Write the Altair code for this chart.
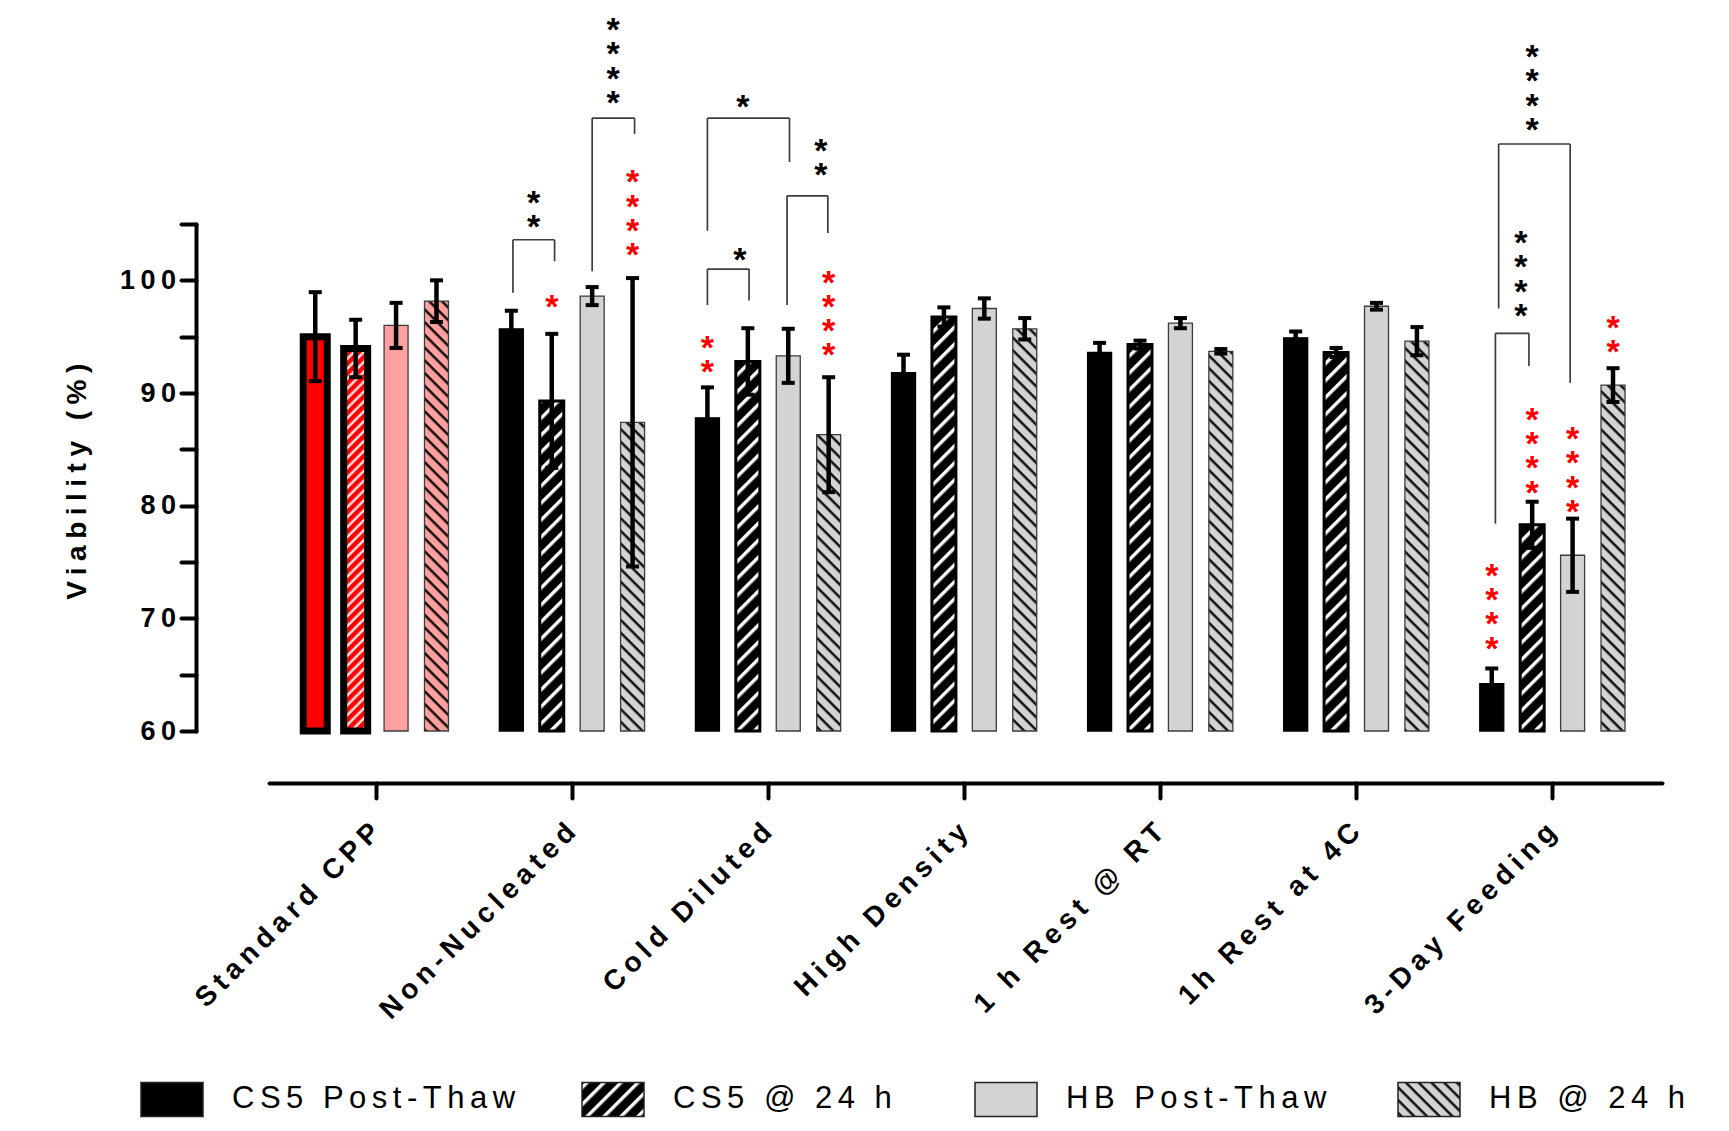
import json
import altair as alt
import pandas as pd

# ---------------- data ----------------
groups = ["Standard CPP", "Non-Nucleated", "Cold Diluted", "High Density",
          "1 h Rest @ RT", "1h Rest at 4C", "3-Day Feeding"]
series = ["CS5 Post-Thaw", "CS5 @ 24 h", "HB Post-Thaw", "HB @ 24 h"]

cs5_pt = [95.0, 95.7, 87.8, 91.8, 93.6, 94.9, 64.2]
cs5_pt_err = [3.95, 1.6, 2.7, 1.6, 0.85, 0.55, 1.35]
cs5_24 = [93.95, 89.3, 92.8, 96.75, 94.3, 93.6, 78.3]
cs5_24_err = [2.55, 5.95, 2.95, 0.85, 0.35, 0.4, 2.05]
hb_pt = [96.0, 98.6, 93.3, 97.5, 96.2, 97.7, 75.6]
hb_pt_err = [2.0, 0.8, 2.4, 0.9, 0.45, 0.3, 3.25]
hb_24 = [98.15, 87.4, 86.3, 95.7, 93.7, 94.6, 90.7]
hb_24_err = [1.85, 12.8, 5.1, 0.95, 0.2, 1.25, 1.5]

# red asterisks (vs Standard CPP): group, bar index, count, centre of top star
red_star_group = ["Non-Nucleated", "Non-Nucleated", "Cold Diluted", "Cold Diluted",
                  "3-Day Feeding", "3-Day Feeding", "3-Day Feeding", "3-Day Feeding"]
red_star_bar = [1, 3, 0, 3, 0, 1, 2, 3]
red_star_count = [1, 4, 2, 4, 4, 4, 4, 2]
red_star_top = [98.4, 109.5, 94.8, 100.6, 74.55, 88.4, 86.7, 96.6]

# black asterisks over the comparison brackets
black_star_group = ["Non-Nucleated", "Non-Nucleated", "Cold Diluted", "Cold Diluted",
                    "Cold Diluted", "3-Day Feeding", "3-Day Feeding"]
black_star_slot = [0.55, 2.52, 0.88, 0.8, 2.81, 1.0, 0.72]
black_star_count = [2, 4, 1, 1, 2, 4, 4]
black_star_top = [107.7, 123.0, 116.2, 102.6, 112.3, 120.6, 104.1]

# comparison brackets: left/right bar slot, top level, leg ends
bracket_group = black_star_group
bracket_left = [0.04, 2.0, 0.0, 0.0, 1.97, 0.17, 0.09]
bracket_right = [1.07, 3.05, 2.03, 1.03, 2.98, 1.94, 0.92]
bracket_top = [103.6, 114.4, 114.4, 101.0, 107.5, 112.1, 95.3]
bracket_left_end = [98.9, 100.8, 104.4, 97.8, 97.8, 97.5, 78.4]
bracket_right_end = [101.7, 113.0, 110.5, 98.2, 104.2, 90.9, 92.4]

# ---------------- tables built from the arrays ----------------
STEP = 0.2061  # distance between neighbouring bars, in group units


def slot_pos(group, slot):
    return groups.index(group) + (slot - 1.5) * STEP


means = [cs5_pt, cs5_24, hb_pt, hb_24]
errs = [cs5_pt_err, cs5_24_err, hb_pt_err, hb_24_err]
rows = []
for gi, g in enumerate(groups):
    for si, s in enumerate(series):
        m, e = means[si][gi], errs[si][gi]
        key = ("Standard CPP|" + s) if g == "Standard CPP" else s
        rows.append(dict(group=g, series=s, key=key, pos=slot_pos(g, si),
                         mean=m, lo=m - e, hi=m + e))
bars = pd.DataFrame(rows)
caps = pd.concat([bars.assign(cap=bars["lo"]), bars.assign(cap=bars["hi"])])

red = pd.DataFrame(dict(
    pos=[slot_pos(g, b) for g, b in zip(red_star_group, red_star_bar)],
    y=red_star_top,
    txt=["\n".join(["*"] * n) for n in red_star_count]))
black = pd.DataFrame(dict(
    pos=[slot_pos(g, b) for g, b in zip(black_star_group, black_star_slot)],
    y=black_star_top,
    txt=["\n".join(["*"] * n) for n in black_star_count]))

seg = []
for g, l, r, t, le, re in zip(bracket_group, bracket_left, bracket_right,
                              bracket_top, bracket_left_end, bracket_right_end):
    pl, pr = slot_pos(g, l), slot_pos(g, r)
    seg.append(dict(x=pl, x2=pr, y=t, y2=t))
    seg.append(dict(x=pl, x2=pl, y=le, y2=t))
    seg.append(dict(x=pr, x2=pr, y=re, y2=t))
brackets = pd.DataFrame(seg)

# ---------------- hatch patterns (SVG defs added to the page) ----------------
DEFS = """
<svg width="0" height="0" style="position:absolute;width:0;height:0;overflow:hidden" aria-hidden="true">
<defs>
<pattern id="hatchCS5" patternUnits="userSpaceOnUse" width="12" height="12" patternTransform="rotate(45)">
<rect x="0" y="0" width="12" height="12" fill="#000000"/><rect x="4" y="0" width="3.4" height="12" fill="#ffffff"/>
</pattern>
<pattern id="hatchStdCS5" patternUnits="userSpaceOnUse" width="7" height="7" patternTransform="rotate(45)">
<rect x="0" y="0" width="7" height="7" fill="#ff0000"/><rect x="2.5" y="0" width="2.2" height="7" fill="#ffffff"/>
</pattern>
<pattern id="hatchHB" patternUnits="userSpaceOnUse" width="9" height="9" patternTransform="rotate(-45)">
<rect x="0" y="0" width="9" height="9" fill="#d3d3d3"/><rect x="3.5" y="0" width="2.3" height="9" fill="#000000"/>
</pattern>
<pattern id="hatchStdHB" patternUnits="userSpaceOnUse" width="9" height="9" patternTransform="rotate(-45)">
<rect x="0" y="0" width="9" height="9" fill="#ffa0a0"/><rect x="3.5" y="0" width="2.3" height="9" fill="#000000"/>
</pattern>
</defs>
</svg>
<style>
.role-axis-label text { letter-spacing: 5.5px; }
.role-axis-title text { letter-spacing: 6.5px; }
.role-legend-label text { letter-spacing: 5.5px; }
</style>
"""

try:
    import altair.utils.html as _ah
    _base_tpl = _ah.TEMPLATES["standard"]

    class _TemplateWithDefs:
        def render(self, *a, **k):
            html = _base_tpl.render(*a, **k)
            if "<body>" in html:
                return html.replace("<body>", "<body>\n" + DEFS, 1)
            return html + DEFS

    _ah.TEMPLATES["standard"] = _TemplateWithDefs()
except Exception:
    pass

fill_domain = series + ["Standard CPP|" + s for s in series]
fill_range = ["#000000", "url(#hatchCS5)", "#d3d3d3", "url(#hatchHB)",
              "#ff0000", "url(#hatchStdCS5)", "#ffa0a0", "url(#hatchStdHB)"]

# ---------------- scales & axes ----------------
FONT = "Liberation Sans"
xs = alt.Scale(domain=[-0.5195, 6.5335], nice=False, zero=False)
ys = alt.Scale(domain=[60, 105], nice=False, zero=False)

label_array = "[" + ",".join(json.dumps(g) for g in groups) + "]"
x_axis = alt.Axis(
    values=list(range(len(groups))), labelExpr=label_array + "[datum.value]",
    title=None, offset=52, grid=False,
    domainColor="black", domainWidth=4, domainCap="round",
    tickColor="black", tickWidth=4, tickSize=15, tickCap="round",
    labelAngle=315, labelAlign="right", labelBaseline="middle",
    labelPadding=26, labelOffset=3, labelFlush=False, labelOverlap=False,
    labelLimit=600, labelFont=FONT, labelFontSize=28, labelFontWeight="bold",
    labelColor="black")
y_axis = alt.Axis(
    values=[60, 65, 70, 75, 80, 85, 90, 95, 100, 105],
    labelExpr="datum.value % 10 === 0 ? datum.label : ''",
    title="Viability (%)", offset=73, grid=False,
    domainColor="black", domainWidth=4, domainCap="round",
    tickColor="black", tickWidth=4, tickSize=15, tickCap="round",
    labelPadding=0, labelFlush=False, labelOverlap=False,
    labelFont=FONT, labelFontSize=27, labelFontWeight="bold", labelColor="black",
    titleFont=FONT, titleFontSize=28, titleFontWeight="bold", titleColor="black",
    titleAngle=270, titleAlign="center", titleBaseline="middle",
    titleX=-119, titleY=254)

legend = alt.Legend(
    orient="none", legendX=-129, legendY=843, direction="horizontal", columns=4,
    title=None, values=series, padding=0,
    symbolType="M-1,-0.55H1V0.55H-1Z", symbolSize=3844,
    symbolStrokeColor="#222222", symbolStrokeWidth=1.5, symbolOpacity=1,
    labelFont=FONT, labelFontSize=31,
    labelColor="black", labelOffset=28, labelLimit=600, columnPadding=129)

X = alt.X("pos:Q", scale=xs, axis=x_axis)

bar_layer = alt.Chart(bars).mark_bar(size=24).encode(
    x=X,
    y=alt.Y("mean:Q", scale=ys, axis=y_axis),
    y2=alt.datum(60),
    fill=alt.Fill("key:N", scale=alt.Scale(domain=fill_domain, range=fill_range),
                  legend=legend),
    stroke=alt.condition("indexof(datum.series, 'CS5') === 0",
                         alt.value("black"), alt.value("#3c3c3c")),
    strokeWidth={"condition": [
        {"test": "datum.key === 'Standard CPP|CS5 Post-Thaw' || datum.key === 'Standard CPP|CS5 @ 24 h'",
         "value": 7},
        {"test": "datum.series === 'CS5 @ 24 h'", "value": 3}],
        "value": 1.3},
)

err_layer = alt.Chart(bars).mark_rule(color="black", strokeWidth=4.5).encode(
    x=X, y=alt.Y("lo:Q", scale=ys, axis=y_axis), y2="hi:Q")

cap_layer = alt.Chart(caps).mark_tick(
    orient="horizontal", size=13, thickness=4, color="black", opacity=1).encode(
    x=X, y=alt.Y("cap:Q", scale=ys, axis=y_axis))

bracket_layer = alt.Chart(brackets).mark_rule(
    color="#3c3c3c", strokeWidth=1.7).encode(
    x=alt.X("x:Q", scale=xs, axis=x_axis), x2="x2:Q",
    y=alt.Y("y:Q", scale=ys, axis=y_axis), y2="y2:Q")

star_style = dict(font=FONT, fontSize=34, fontWeight="bold", lineBreak="\n",
                  lineHeight=24.2, baseline="alphabetic", align="center", dy=20)
red_layer = alt.Chart(red).mark_text(color="#ff0000", **star_style).encode(
    x=X, y=alt.Y("y:Q", scale=ys, axis=y_axis), text="txt:N")
black_layer = alt.Chart(black).mark_text(color="black", **star_style).encode(
    x=X, y=alt.Y("y:Q", scale=ys, axis=y_axis), text="txt:N")

chart = alt.layer(
    bar_layer, err_layer, cap_layer, bracket_layer, red_layer, black_layer
).properties(
    width=1393, height=507,
    autosize=alt.AutoSizeParams(type="none"),
    padding={"left": 261, "top": 216, "right": 59, "bottom": 400},
).configure_view(stroke=None).configure_axis(grid=False)

chart.save("out.html", embed_options={"renderer": "svg", "actions": False})
